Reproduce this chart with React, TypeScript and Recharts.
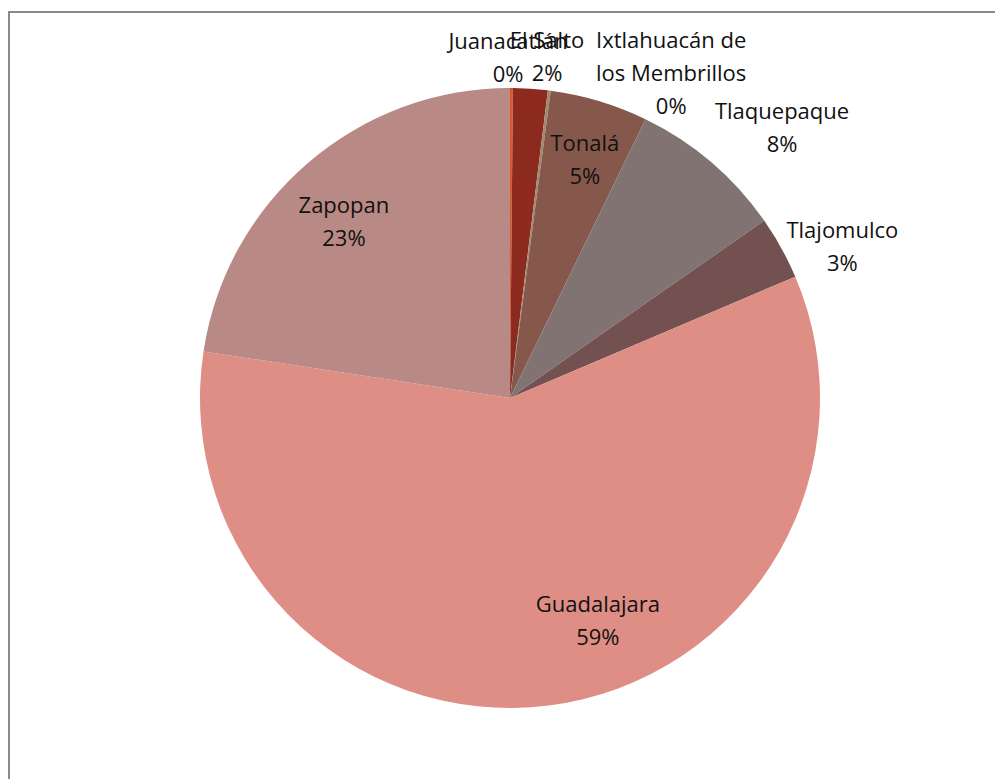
import { PieChart, Pie, Cell } from 'recharts'

const municipios = [
  'Juanacatlán',
  'El Salto',
  'Ixtlahuacán de los Membrillos',
  'Tonalá',
  'Tlaquepaque',
  'Tlajomulco',
  'Guadalajara',
  'Zapopan',
]
const shares = [0.15, 1.8, 0.15, 5.1, 8.1, 3.3, 58.8, 22.6]
const colors = ['#d65a2b', '#8c2a1f', '#a08a6e', '#85584b', '#807372', '#745151', '#df8e85', '#b98985']

// label placement: [radius factor, angle shift in degrees]
const labelLayout: Record<string, [number, number]> = {
  'Juanacatlán': [1.103, -0.6],
  'El Salto': [1.11, 2.4],
  'Ixtlahuacán de los Membrillos': [1.174, 19],
  'Tonalá': [0.81, 0.6],
  'Tlaquepaque': [1.239, 4.6],
  'Tlajomulco': [1.18, 4.3],
  'Guadalajara': [0.77, -14.4],
  'Zapopan': [0.783, -2.5],
}

const data = municipios.map((name, i) => ({ name, value: shares[i] }))

const FONT = '"Open Sans", "Noto Sans", sans-serif'
const LINE = 33

function wrap(text: string, max = 15) {
  const lines: string[] = []
  let cur = ''
  for (const w of text.split(' ')) {
    if (cur && (cur + ' ' + w).length > max) {
      lines.push(cur)
      cur = w
    } else {
      cur = cur ? cur + ' ' + w : w
    }
  }
  if (cur) lines.push(cur)
  return lines
}

function renderLabel(props: any) {
  const { cx, cy, midAngle, outerRadius, name, percent } = props
  const [rf, shift] = labelLayout[name] ?? [1.15, 0]
  const theta = ((90 - midAngle + shift) * Math.PI) / 180
  const r = outerRadius * rf
  const x = cx + r * Math.sin(theta)
  const y = cy - r * Math.cos(theta)
  const lines = [...wrap(name), `${Math.round(percent * 100)}%`]
  const y0 = y - ((lines.length - 1) * LINE) / 2
  return (
    <text
      key={name}
      x={x}
      y={y0}
      textAnchor="middle"
      dominantBaseline="central"
      fontFamily={FONT}
      fontSize={22}
      fill="#111"
    >
      {lines.map((l, i) => (
        <tspan key={i} x={x} y={y0 + i * LINE}>
          {l}
        </tspan>
      ))}
    </text>
  )
}

export default function App() {
  return (
    <div style={{ position: 'fixed', left: 0, top: 0, width: 995, height: 779, overflow: 'hidden', background: '#fff' }}>
      <div
        style={{
          position: 'absolute',
          left: 8,
          top: 11,
          width: 1100,
          height: 900,
          border: '2px solid #8a8a8a',
          boxSizing: 'border-box',
        }}
      />
      <div style={{ position: 'absolute', left: 0, top: 0 }}>
        <PieChart width={995} height={779}>
          <Pie
            data={data}
            dataKey="value"
            nameKey="name"
            cx={505}
            cy={393}
            outerRadius={310}
            startAngle={90}
            endAngle={-270}
            stroke="none"
            label={renderLabel}
            labelLine={false}
            isAnimationActive={false}
          >
            {data.map((d, i) => (
              <Cell key={d.name} fill={colors[i]} />
            ))}
          </Pie>
        </PieChart>
      </div>
    </div>
  )
}
